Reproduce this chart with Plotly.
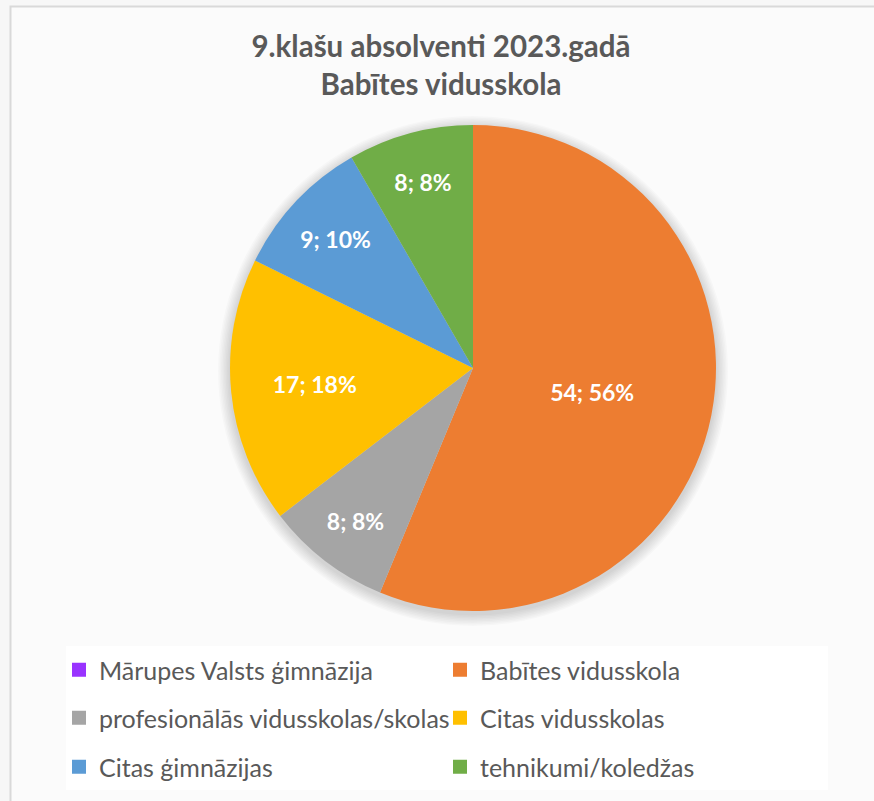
import plotly.graph_objects as go

categories = ["Mārupes Valsts ģimnāzija", "Babītes vidusskola",
              "profesionālās vidusskolas/skolas", "Citas vidusskolas",
              "Citas ģimnāzijas", "tehnikumi/koledžas"]
values = [0, 54, 8, 17, 9, 8]
percent_labels = ["0%", "56%", "8%", "18%", "10%", "8%"]
colors = ["#9933FF", "#ED7D31", "#A5A5A5", "#FFC000", "#5B9BD5", "#70AD47"]
title_lines = ["9.klašu absolventi 2023.gadā", "Babītes vidusskola"]

W, H = 874, 801
FONT = "Lato"
TXT = "#595959"

fig = go.Figure()

# pie centre (473,368), radius ~243 px
cx, cy, r = 473, 368, 243
fig.add_trace(go.Pie(
    labels=categories, values=values, customdata=percent_labels,
    texttemplate="%{value}; %{customdata}", textposition="inside",
    insidetextorientation="horizontal",
    textfont=dict(family=FONT, size=23, color="white", weight="bold"),
    marker=dict(colors=colors, line=dict(width=0)),
    sort=False, direction="clockwise", rotation=0,
    showlegend=False, hoverinfo="label+value",
    domain=dict(x=[(cx - r) / W, (cx + r) / W], y=[1 - (cy + r) / H, 1 - (cy - r) / H]),
))

# legend entries, laid out as three rows of two columns
rows = [(0, 1), (2, 3), (4, 5)]
row_y = [670, 718, 767]
legend_names = ["legend", "legend2", "legend3"]
for ri, (a, b) in enumerate(rows):
    for idx in (a, b):
        fig.add_trace(go.Scatter(
            x=[None], y=[None], mode="markers", name=categories[idx],
            marker=dict(symbol="square", size=14, color=colors[idx]),
            legend=legend_names[ri], showlegend=True,
        ))

legend_common = dict(orientation="h", xanchor="left", yanchor="middle",
                     x=59 / W, bgcolor="rgba(0,0,0,0)",
                     font=dict(family=FONT, size=25, color=TXT),
                     entrywidth=336, itemwidth=30)
layout_legends = {}
for ri, ln in enumerate(legend_names):
    layout_legends[ln] = dict(legend_common, y=1 - row_y[ri] / H)

# soft shadow behind the pie (decoration)
shadow = []
for k in range(1, 9):
    rr = r + k * 1.5
    shadow.append(dict(type="circle", xref="paper", yref="paper", layer="below",
                       x0=(cx - rr) / W, x1=(cx + rr) / W,
                       y0=1 - (cy + 3 + rr) / H, y1=1 - (cy + 3 - rr) / H,
                       fillcolor="rgba(0,0,0,0.018)", line=dict(width=0)))

fig.update_layout(
    width=W, height=H,
    margin=dict(l=0, r=0, t=0, b=0, autoexpand=False),
    paper_bgcolor="#f7f7f7", plot_bgcolor="rgba(0,0,0,0)",
    xaxis=dict(visible=False), yaxis=dict(visible=False),
    title=dict(text="<br>".join(title_lines), x=441 / W, xanchor="center",
               y=1 - 57 / H, yanchor="top",
               font=dict(family=FONT, size=29.5, color=TXT, weight="bold")),
    shapes=[dict(type="rect", xref="paper", yref="paper", layer="below",
                 x0=10.5 / W, x1=1.01, y0=-0.01, y1=1 - 6.5 / H,
                 fillcolor="#fbfbfb", line=dict(color="#d9d9d9", width=2)),
            dict(type="rect", xref="paper", yref="paper", layer="below",
                 x0=66 / W, x1=828 / W, y0=1 - 790 / H, y1=1 - 646 / H,
                 fillcolor="#ffffff", line=dict(width=0))] + shadow,
    **layout_legends,
)

fig.write_html("out.html", config={"displayModeBar": False},
               post_script="document.body.style.margin='0';document.body.style.padding='0';")
